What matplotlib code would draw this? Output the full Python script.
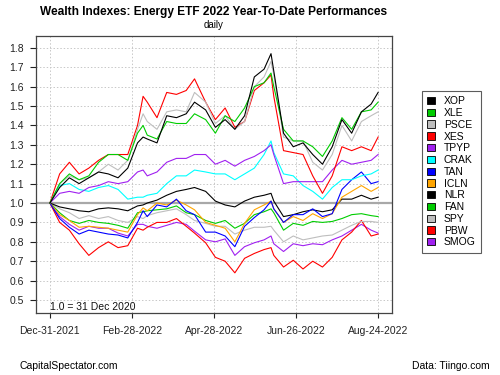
import matplotlib
matplotlib.use("Agg")
import matplotlib.pyplot as plt
import matplotlib.dates as mdates
from matplotlib.patches import Patch
import numpy as np
import datetime as dt

plt.rcParams['font.family'] = ['Liberation Sans', 'DejaVu Sans']

dates = ["2021-12-31", "2022-01-07", "2022-01-14", "2022-01-21", "2022-01-28", "2022-02-04",
         "2022-02-11", "2022-02-18", "2022-02-25", "2022-03-04", "2022-03-08", "2022-03-11",
         "2022-03-18", "2022-03-25", "2022-04-01", "2022-04-08", "2022-04-14", "2022-04-22",
         "2022-04-29", "2022-05-06", "2022-05-13", "2022-05-20", "2022-05-27", "2022-06-03",
         "2022-06-08", "2022-06-10", "2022-06-17", "2022-06-24", "2022-07-01", "2022-07-08",
         "2022-07-15", "2022-07-22", "2022-07-29", "2022-08-05", "2022-08-12", "2022-08-19",
         "2022-08-24"]

XOP = [1.00,1.08,1.13,1.10,1.13,1.16,1.15,1.13,1.18,1.31,1.34,1.33,1.31,1.45,1.44,1.46,1.52,1.48,1.39,1.43,1.38,1.45,1.65,1.69,1.77,1.68,1.36,1.29,1.31,1.25,1.20,1.29,1.43,1.36,1.47,1.51,1.57]
XLE = [1.00,1.10,1.15,1.12,1.14,1.21,1.25,1.25,1.22,1.36,1.40,1.35,1.33,1.42,1.41,1.41,1.46,1.43,1.36,1.45,1.42,1.49,1.60,1.62,1.67,1.60,1.38,1.32,1.32,1.29,1.24,1.32,1.44,1.38,1.47,1.48,1.52]
PSCE = [1.00,1.10,1.14,1.12,1.13,1.16,1.20,1.17,1.22,1.38,1.46,1.42,1.38,1.47,1.48,1.47,1.57,1.52,1.41,1.45,1.38,1.42,1.60,1.65,1.73,1.66,1.34,1.32,1.32,1.21,1.17,1.25,1.40,1.32,1.42,1.45,1.47]
XES = [1.00,1.15,1.21,1.15,1.18,1.22,1.25,1.25,1.25,1.40,1.55,1.52,1.44,1.57,1.56,1.58,1.64,1.52,1.43,1.49,1.39,1.42,1.58,1.62,1.66,1.55,1.27,1.26,1.25,1.14,1.05,1.14,1.29,1.27,1.29,1.27,1.34]
TPYP = [1.00,1.05,1.06,1.05,1.08,1.09,1.11,1.10,1.11,1.16,1.17,1.14,1.16,1.21,1.23,1.23,1.25,1.25,1.20,1.22,1.19,1.22,1.24,1.27,1.30,1.25,1.10,1.11,1.11,1.11,1.11,1.17,1.22,1.20,1.21,1.22,1.25]
CRAK = [1.00,1.09,1.10,1.07,1.06,1.08,1.09,1.07,1.02,1.03,1.03,1.04,1.05,1.10,1.14,1.14,1.17,1.16,1.15,1.15,1.12,1.15,1.18,1.25,1.32,1.26,1.15,1.14,1.09,1.06,1.02,1.08,1.12,1.12,1.14,1.15,1.17]
TAN = [1.00,0.92,0.875,0.84,0.86,0.85,0.84,0.835,0.82,0.90,0.96,0.93,0.99,0.98,1.02,0.96,0.94,0.85,0.85,0.83,0.775,0.88,0.925,0.965,1.01,0.97,0.90,0.94,0.94,0.97,0.93,0.945,1.07,1.12,1.16,1.10,1.11]
ICLN = [1.00,0.94,0.91,0.875,0.88,0.875,0.87,0.86,0.85,0.94,0.975,0.96,1.00,0.99,1.015,0.99,0.965,0.90,0.885,0.87,0.80,0.895,0.965,0.99,1.01,0.97,0.90,0.93,0.91,0.945,0.92,0.945,1.03,1.06,1.09,1.06,1.08]
NLR = [1.00,0.98,0.97,0.96,0.955,0.97,0.975,0.97,0.96,0.985,0.99,1.00,1.015,1.04,1.06,1.07,1.08,1.06,1.01,0.99,0.98,1.01,1.03,1.04,1.05,1.01,0.93,0.94,0.955,0.965,0.955,0.965,1.02,1.02,1.04,1.02,1.03]
FAN = [1.00,0.95,0.91,0.895,0.91,0.90,0.895,0.885,0.87,0.95,0.955,0.96,0.965,0.97,0.985,0.95,0.94,0.91,0.895,0.91,0.87,0.895,0.94,0.955,0.97,0.95,0.86,0.895,0.885,0.905,0.90,0.905,0.92,0.94,0.945,0.935,0.93]
SPY = [1.00,0.97,0.95,0.92,0.935,0.92,0.93,0.91,0.90,0.93,0.92,0.935,0.95,0.96,0.97,0.94,0.91,0.895,0.88,0.88,0.84,0.86,0.875,0.875,0.88,0.86,0.80,0.83,0.81,0.82,0.83,0.835,0.86,0.885,0.905,0.905,0.90]
PBW = [1.00,0.90,0.86,0.79,0.73,0.77,0.80,0.77,0.78,0.87,0.86,0.875,0.90,0.90,0.92,0.88,0.845,0.795,0.72,0.70,0.64,0.715,0.74,0.76,0.77,0.73,0.67,0.705,0.66,0.70,0.67,0.72,0.81,0.85,0.91,0.83,0.84]
SMOG = [1.00,0.93,0.89,0.86,0.88,0.87,0.87,0.845,0.83,0.89,0.89,0.88,0.87,0.885,0.90,0.89,0.855,0.81,0.80,0.815,0.73,0.775,0.795,0.81,0.83,0.79,0.75,0.79,0.78,0.79,0.785,0.81,0.83,0.86,0.89,0.86,0.845]

names = ["XOP", "XLE", "PSCE", "XES", "TPYP", "CRAK", "TAN", "ICLN", "NLR", "FAN", "SPY", "PBW", "SMOG"]
series = [XOP, XLE, PSCE, XES, TPYP, CRAK, TAN, ICLN, NLR, FAN, SPY, PBW, SMOG]
colors = ["#000000", "#00CD00", "#BEBEBE", "#FF0000", "#A020F0", "#00FFFF", "#0000FF",
          "#FFA500", "#000000", "#00CD00", "#BEBEBE", "#FF0000", "#A020F0"]

yticks = [0.5, 0.6, 0.7, 0.8, 0.9, 1.0, 1.1, 1.2, 1.3, 1.4, 1.5, 1.6, 1.7, 1.8]
xtick_dates = ["2021-12-31", "2022-02-28", "2022-04-28", "2022-06-26", "2022-08-24"]

x = [dt.datetime.strptime(d, "%Y-%m-%d") for d in dates]
xt = [dt.datetime.strptime(d, "%Y-%m-%d") for d in xtick_dates]

fig = plt.figure(figsize=(5, 3.75), dpi=100)
ax = fig.add_axes([36/500, 1-313/375, (392-36)/500, (313-36)/375])

for v in yticks:
    ax.axhline(v, color="#C8C8C8", lw=0.7, ls=(0, (1.5, 2)), zorder=1)
for d in xt:
    ax.axvline(d, color="#C8C8C8", lw=0.7, ls=(0, (1.5, 2)), zorder=1)
ax.axhline(1.0, color="#A8A8A8", lw=1.6, zorder=2)

for s, c in zip(series[::-1], colors[::-1]):
    ax.plot(x, s, color=c, lw=0.8, zorder=3)

start = dt.datetime(2021, 12, 31)
ax.set_xlim(start - dt.timedelta(days=10), start + dt.timedelta(days=246))
ax.set_ylim(0.433, 1.861)
ax.set_yticks(yticks)
ax.set_yticklabels([f"{v:.1f}" for v in yticks])
ax.set_xticks(xt)
ax.xaxis.set_major_formatter(mdates.DateFormatter("%b-%d-%Y"))
ax.tick_params(axis='both', labelsize=7.5, colors="#222222", width=0.8)
ax.tick_params(axis='y', length=4.5, pad=4)
ax.tick_params(axis='x', length=3.5, pad=6)
for sp in ax.spines.values():
    sp.set_color("#444444")
    sp.set_linewidth(0.9)

ax.text(50/500, 1-307/375, "1.0 = 31 Dec 2020", transform=fig.transFigure,
        fontsize=7.5, ha="left", va="center", color="#111111")

fig.text(214/500, 1-12/375, "Wealth Indexes: Energy ETF 2022 Year-To-Date Performances",
         fontsize=8.6, fontweight="bold", ha="center", va="center")
fig.text(214/500, 1-25/375, "daily", fontsize=7, ha="center", va="center")
fig.text(20/500, 1-366/375, "CapitalSpectator.com", fontsize=7.5, ha="left", va="center")
fig.text(490/500, 1-366/375, "Data: Tiingo.com", fontsize=7.5, ha="right", va="center")

handles = [Patch(facecolor=c, edgecolor="black", linewidth=0.6) for c in colors]
leg = fig.legend(handles, names, loc="upper left", bbox_to_anchor=(422/500, 1-91/375),
                 fontsize=7.5, frameon=True, fancybox=False, edgecolor="#333333",
                 handlelength=0.7, handleheight=0.7, handletextpad=0.9, labelspacing=0.17,
                 borderpad=0.5, borderaxespad=0)
leg.get_frame().set_linewidth(0.8)

fig.savefig("out.png", dpi=100)
